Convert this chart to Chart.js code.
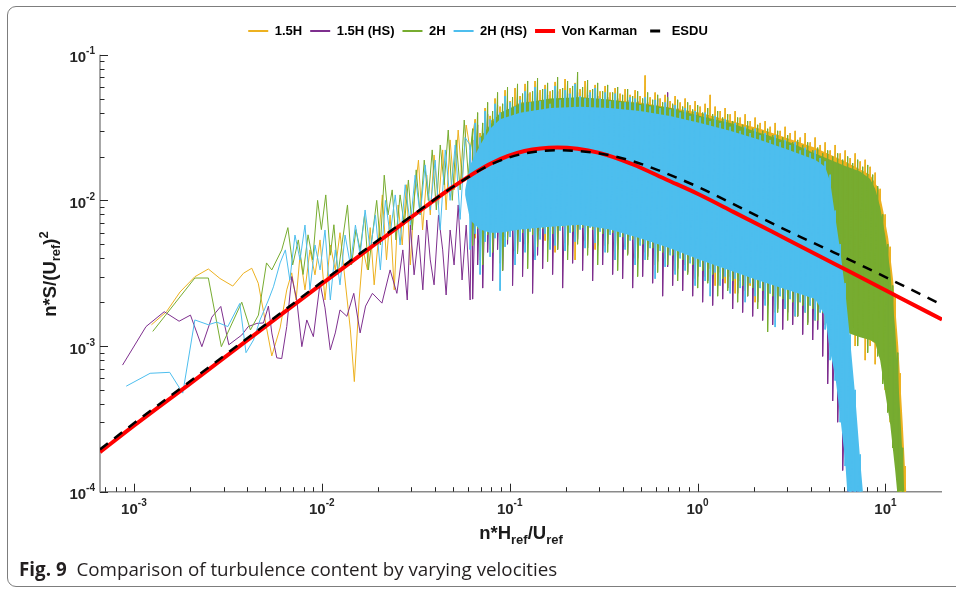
<!DOCTYPE html>
<html>
<head>
<meta charset="utf-8">
<script src="https://cdn.jsdelivr.net/npm/chart.js@4.4.1/dist/chart.umd.min.js"></script>
<style>
  html, body { margin: 0; padding: 0; background: #fff; }
  #wrap { position: relative; width: 956px; height: 590px; overflow: hidden; }
  #frame { position: absolute; left: 7px; top: 6px; width: 970px; height: 581px;
           border: 1.5px solid #7d7d7d; border-radius: 9px; box-sizing: border-box; }
  #plot { position: absolute; left: 0; top: 0; }
  #caption { position: absolute; left: 19px; top: 557px; line-height: 24px;
             font-family: "Open Sans", sans-serif; font-size: 18.8px; color: #231f20; white-space: nowrap; }
  #caption b { font-weight: 700; }
</style>
</head>
<body>
<div id="wrap">
  <div id="frame"></div>
  <canvas id="plot" width="956" height="590"></canvas>
  <div id="caption"><b>Fig. 9</b>&nbsp; Comparison of turbulence content by varying velocities</div>
</div>
<script>
// ---- axes -------------------------------------------------------------
const xMin = 6.6e-4, xMax = 20;
const yMin = 1e-4, yMax = 1e-1;
const xDecades = [-3, -2, -1, 0, 1];
const yDecades = [-4, -3, -2, -1];

// ---- series ------------------------------------------------------------
const seriesNames  = ['1.5H', '1.5H (HS)', '2H', '2H (HS)', 'Von Karman', 'ESDU'];
const seriesColors = ['#EDB120', '#7E2F8E', '#77AC30', '#4DBEEE', '#FF0000', '#000000'];

// reference spectra [n*H/U, nS/U^2]
const vonKarman = [
  [6.6e-4, 1.87e-4], [1e-3, 2.84e-4], [2e-3, 5.55e-4], [5e-3, 1.36e-3], [0.01, 2.67e-3],
  [0.02, 5.2e-3], [0.035, 8.9e-3], [0.05, 0.0124], [0.08, 0.0180], [0.12, 0.0218],
  [0.18, 0.0231], [0.3, 0.0212], [0.45, 0.0177], [0.69, 0.0138], [1.0, 0.0111],
  [1.55, 0.00834], [2.5, 0.00608], [3.5, 0.00486], [5.5, 0.00360], [8.0, 0.00281],
  [12, 0.00214], [20, 0.00152]
];
const esdu = [
  [6.6e-4, 1.95e-4], [1e-3, 2.95e-4], [2e-3, 5.75e-4], [5e-3, 1.4e-3], [0.01, 2.75e-3],
  [0.02, 5.35e-3], [0.035, 9.0e-3], [0.05, 0.0124], [0.08, 0.0177], [0.12, 0.0210],
  [0.18, 0.0221], [0.3, 0.0210], [0.45, 0.0186], [0.61, 0.0162], [1.03, 0.0122],
  [1.76, 0.0087], [3.0, 0.0062], [5.3, 0.00440], [9.0, 0.00318], [20, 0.00192]
];

// measured spectra, sparse low-frequency part [n*H/U, nS/U^2]
const line15H = [
  [1.24e-3, 1.40e-3], [1.49e-3, 1.72e-3], [1.76e-3, 2.35e-3], [2.11e-3, 2.99e-3], [2.49e-3, 3.38e-3],
  [2.87e-3, 2.91e-3], [3.36e-3, 2.58e-3], [3.83e-3, 3.16e-3], [4.24e-3, 3.42e-3], [4.59e-3, 2.70e-3],
  [4.99e-3, 1.51e-3], [5.42e-3, 8.55e-4], [6.0e-3, 1.33e-3], [6.51e-3, 2.43e-3], [6.92e-3, 3.18e-3],
  [7.3e-3, 2.07e-3], [7.66e-3, 4.22e-3], [8.14e-3, 2.43e-3], [8.65e-3, 4.57e-3], [9.2e-3, 3.08e-3],
  [9.79e-3, 5.35e-3], [1.04e-2, 2.07e-3], [1.11e-2, 4.94e-3], [1.18e-2, 3.33e-3], [1.25e-2, 6.0e-3],
  [1.33e-2, 2.84e-3], [1.42e-2, 1.29e-3], [1.49e-2, 5.7e-4], [1.58e-2, 2.07e-3], [1.66e-2, 4.57e-3],
  [1.75e-2, 3.33e-3], [1.81e-2, 6.5e-3], [1.9e-2, 2.63e-3], [2.0e-2, 5.35e-3], [2.1e-2, 1.09e-2],
  [2.21e-2, 3.9e-3], [2.31e-2, 7.94e-3], [2.43e-2, 2.43e-3], [2.55e-2, 9.3e-3], [2.68e-2, 4.94e-3],
  [2.82e-2, 1.28e-2], [2.96e-2, 3.6e-3], [3.1e-2, 1.0e-2], [3.27e-2, 1.89e-2], [3.44e-2, 6.26e-3],
  [3.62e-2, 1.49e-2], [3.78e-2, 7.94e-3], [3.96e-2, 2.05e-2], [4.18e-2, 9.3e-3], [4.4e-2, 2.22e-2],
  [4.59e-2, 8.59e-3], [4.82e-2, 2.6e-2], [5.06e-2, 1.18e-2], [5.32e-2, 3.04e-2], [5.58e-2, 1.38e-2],
  [5.87e-2, 3.29e-2], [6.16e-2, 0.0222]
];
const line15HHS = [
  [8.7e-4, 7.4e-4], [1.16e-3, 1.36e-3], [1.45e-3, 1.72e-3], [1.74e-3, 1.48e-3], [2.0e-3, 1.63e-3],
  [2.3e-3, 9.9e-4], [2.6e-3, 1.58e-3], [2.9e-3, 1.87e-3], [3.2e-3, 1.02e-3], [3.75e-3, 1.19e-3],
  [4.06e-3, 1.36e-3], [4.51e-3, 1.43e-3], [4.89e-3, 1.44e-3], [5.2e-3, 1.88e-3], [5.42e-3, 1.23e-3],
  [5.76e-3, 8.3e-4], [6.12e-3, 8.2e-4], [6.51e-3, 1.36e-3], [6.92e-3, 3.0e-3], [7.36e-3, 2.07e-3],
  [7.83e-3, 9.9e-4], [8.32e-3, 1.51e-3], [9.02e-3, 1.16e-3], [9.79e-3, 2.7e-3], [1.04e-2, 1.83e-3],
  [1.11e-2, 9.4e-4], [1.18e-2, 1.23e-3], [1.25e-2, 1.77e-3], [1.36e-2, 1.6e-3], [1.48e-2, 2.3e-3],
  [1.6e-2, 1.23e-3], [1.71e-2, 1.88e-3], [1.86e-2, 2.3e-3], [2.09e-2, 1.97e-3], [2.31e-2, 3.33e-3],
  [2.51e-2, 2.3e-3], [2.7e-2, 4.57e-3], [2.85e-2, 2.07e-3], [2.96e-2, 6.77e-3], [3.1e-2, 3.08e-3],
  [3.27e-2, 5.78e-3], [3.45e-2, 2.43e-3], [3.62e-2, 7.33e-3], [3.78e-2, 3.9e-3], [3.96e-2, 2.63e-3],
  [4.18e-2, 7.94e-3], [4.4e-2, 4.57e-3], [4.59e-2, 2.24e-3], [4.82e-2, 6.26e-3], [5.06e-2, 3.6e-3],
  [5.32e-2, 9.3e-3], [5.58e-2, 2.84e-3], [5.87e-2, 6.77e-3], [6.16e-2, 2.07e-3]
];
const line2H = [
  [1.26e-3, 1.26e-3], [2.11e-3, 2.93e-3], [2.49e-3, 2.93e-3], [2.92e-3, 9.9e-4], [3.75e-3, 2.0e-3],
  [4.17e-3, 1.29e-3], [4.6e-3, 1.63e-3], [5.08e-3, 3.72e-3], [5.42e-3, 3.33e-3], [6.12e-3, 4.57e-3],
  [6.6e-3, 6.5e-3], [7.0e-3, 3.6e-3], [7.5e-3, 5.35e-3], [7.95e-3, 3.1e-3], [8.45e-3, 5.8e-3],
  [8.95e-3, 3.9e-3], [9.5e-3, 1.0e-2], [9.95e-3, 6.3e-3], [1.05e-2, 1.09e-2], [1.11e-2, 4.2e-3],
  [1.16e-2, 6.8e-3], [1.22e-2, 3.1e-3], [1.29e-2, 5.35e-3], [1.37e-2, 9.3e-3], [1.44e-2, 3.6e-3],
  [1.52e-2, 6.3e-3], [1.6e-2, 4.57e-3], [1.69e-2, 7.94e-3], [1.77e-2, 3.33e-3], [1.86e-2, 5.8e-3],
  [1.96e-2, 1.0e-2], [2.05e-2, 4.94e-3], [2.15e-2, 1.49e-2], [2.25e-2, 7.94e-3], [2.37e-2, 1.18e-2],
  [2.48e-2, 5.35e-3], [2.61e-2, 1.09e-2], [2.75e-2, 6.77e-3], [2.89e-2, 1.38e-2], [3.03e-2, 6.26e-3],
  [3.18e-2, 1.62e-2], [3.34e-2, 7.94e-3], [3.51e-2, 1.89e-2], [3.69e-2, 1.0e-2], [3.87e-2, 2.22e-2],
  [4.07e-2, 8.6e-3], [4.27e-2, 2.4e-2], [4.48e-2, 1.28e-2], [4.71e-2, 3.04e-2], [4.95e-2, 1.0e-2],
  [5.19e-2, 2.6e-2], [5.45e-2, 1.18e-2], [5.73e-2, 3.56e-2], [6.02e-2, 1.49e-2]
];
const line2HHS = [
  [9.1e-4, 5.3e-4], [1.22e-3, 6.5e-4], [1.55e-3, 6.6e-4], [1.82e-3, 4.75e-4], [2.11e-3, 1.51e-3],
  [2.49e-3, 1.40e-3], [2.76e-3, 1.46e-3], [3.16e-3, 1.36e-3], [3.66e-3, 1.96e-3], [3.95e-3, 9.0e-4],
  [4.33e-3, 1.10e-3], [4.69e-3, 1.51e-3], [5.2e-3, 2.07e-3], [5.53e-3, 2.55e-3], [6.0e-3, 3.72e-3],
  [6.4e-3, 4.57e-3], [6.76e-3, 2.84e-3], [7.2e-3, 5.78e-3], [7.66e-3, 3.9e-3], [8.14e-3, 6.77e-3],
  [8.65e-3, 2.43e-3], [9.2e-3, 4.94e-3], [9.79e-3, 3.33e-3], [1.04e-2, 6.26e-3], [1.11e-2, 2.07e-3],
  [1.18e-2, 4.57e-3], [1.25e-2, 2.63e-3], [1.33e-2, 5.78e-3], [1.42e-2, 3.6e-3], [1.51e-2, 6.77e-3],
  [1.6e-2, 4.22e-3], [1.7e-2, 8.59e-3], [1.81e-2, 4.57e-3], [1.93e-2, 7.94e-3], [2.05e-2, 3.33e-3],
  [2.18e-2, 1.0e-2], [2.31e-2, 5.78e-3], [2.46e-2, 1.09e-2], [2.61e-2, 4.94e-3], [2.78e-2, 1.28e-2],
  [2.96e-2, 6.77e-3], [3.14e-2, 1.49e-2], [3.34e-2, 7.94e-3], [3.55e-2, 1.75e-2], [3.78e-2, 8.59e-3],
  [4.01e-2, 1.89e-2], [4.27e-2, 6.26e-3], [4.54e-2, 2.22e-2], [4.82e-2, 1.0e-2], [5.13e-2, 2.4e-2],
  [5.45e-2, 7.4e-3], [5.79e-2, 2.7e-2]
];

// measured spectra, dense part: local [n*H/U, peak, trough] pairs
const noise15H = [
  [0.0655, 0.036, 5.5e-3], [0.0696, 0.029, 3.9e-3], [0.0740, 0.043, 5.9e-3], [0.0787, 0.038, 4.6e-3],
  [0.0836, 0.050, 6.1e-3], [0.0889, 0.044, 3.7e-3], [0.0945, 0.057, 5.6e-3], [0.1005, 0.048, 6.2e-3],
  [0.1068, 0.059, 4.5e-3], [0.1136, 0.052, 6.4e-3], [0.1208, 0.063, 5.0e-3], [0.1284, 0.055, 6.6e-3],
  [0.1365, 0.066, 4.1e-3], [0.1452, 0.057, 6.2e-3], [0.1543, 0.062, 5.3e-3], [0.1641, 0.056, 6.8e-3],
  [0.1745, 0.065, 4.4e-3], [0.1855, 0.058, 6.5e-3], [0.1972, 0.068, 5.1e-3], [0.2097, 0.059, 6.9e-3],
  [0.2229, 0.064, 3.9e-3], [0.2370, 0.058, 6.4e-3], [0.2520, 0.066, 5.3e-3], [0.2680, 0.057, 6.6e-3],
  [0.2849, 0.062, 4.6e-3], [0.3029, 0.056, 6.3e-3], [0.3221, 0.061, 4.9e-3], [0.3424, 0.055, 6.1e-3],
  [0.3641, 0.059, 3.9e-3], [0.3871, 0.054, 5.8e-3], [0.4115, 0.058, 4.8e-3], [0.4376, 0.053, 5.6e-3],
  [0.4652, 0.057, 4.0e-3], [0.4946, 0.052, 5.3e-3], [0.5259, 0.072, 4.4e-3], [0.5591, 0.051, 5.0e-3],
  [0.5945, 0.055, 3.6e-3], [0.6320, 0.050, 4.7e-3], [0.6720, 0.053, 4.0e-3], [0.7145, 0.048, 4.4e-3],
  [0.7596, 0.052, 3.3e-3], [0.8077, 0.047, 4.2e-3], [0.8587, 0.050, 3.6e-3], [0.9130, 0.045, 3.9e-3],
  [0.9707, 0.048, 2.9e-3], [1.032, 0.044, 3.7e-3], [1.097, 0.046, 3.0e-3], [1.167, 0.053, 3.4e-3],
  [1.240, 0.044, 2.6e-3], [1.319, 0.041, 3.2e-3], [1.402, 0.043, 2.7e-3], [1.491, 0.039, 3.0e-3],
  [1.585, 0.041, 2.3e-3], [1.685, 0.037, 2.8e-3], [1.792, 0.039, 2.4e-3], [1.905, 0.035, 2.6e-3],
  [2.025, 0.037, 2.0e-3], [2.153, 0.034, 2.5e-3], [2.289, 0.035, 2.1e-3], [2.434, 0.032, 2.3e-3],
  [2.588, 0.034, 1.7e-3], [2.751, 0.030, 2.2e-3], [2.925, 0.032, 1.8e-3], [3.110, 0.029, 2.1e-3],
  [3.307, 0.030, 1.6e-3], [3.516, 0.027, 2.0e-3], [3.738, 0.029, 1.7e-3], [3.974, 0.025, 1.9e-3],
  [4.225, 0.027, 1.5e-3], [4.492, 0.024, 1.8e-3], [4.776, 0.025, 1.4e-3], [5.078, 0.022, 1.6e-3],
  [5.399, 0.024, 1.3e-3], [5.740, 0.021, 1.5e-3], [6.103, 0.022, 1.2e-3], [6.489, 0.0195, 1.4e-3],
  [6.899, 0.021, 1.0e-3], [7.335, 0.0185, 1.2e-3], [7.799, 0.019, 8.0e-4], [8.292, 0.017, 1.0e-3],
  [8.816, 0.0155, 7.5e-4], [9.373, 0.012, 8.5e-4], [9.965, 8.0e-3, 5.0e-4], [10.60, 4.8e-3, 3.0e-4],
  [11.27, 2.2e-3, 1.7e-4], [11.98, 6.5e-4, 8e-5], [12.73, 1.5e-4, 5e-5]
];
const noise15HHS = [
  [0.0635, 0.026, 2.1e-3], [0.0675, 0.033, 3.6e-3], [0.0718, 0.029, 2.5e-3], [0.0763, 0.039, 4.4e-3],
  [0.0811, 0.034, 2.8e-3], [0.0862, 0.045, 4.6e-3], [0.0917, 0.038, 3.3e-3], [0.0974, 0.049, 5.0e-3],
  [0.1036, 0.042, 2.6e-3], [0.1101, 0.052, 4.4e-3], [0.1171, 0.045, 3.0e-3], [0.1246, 0.054, 5.1e-3],
  [0.1324, 0.047, 2.3e-3], [0.1407, 0.055, 4.2e-3], [0.1497, 0.048, 3.4e-3], [0.1591, 0.053, 5.3e-3],
  [0.1692, 0.047, 3.1e-3], [0.1799, 0.056, 4.6e-3], [0.1913, 0.048, 2.5e-3], [0.2033, 0.054, 4.9e-3],
  [0.2162, 0.047, 3.7e-3], [0.2298, 0.055, 5.4e-3], [0.2444, 0.048, 3.3e-3], [0.2598, 0.053, 4.7e-3],
  [0.2763, 0.046, 2.8e-3], [0.2938, 0.052, 4.9e-3], [0.3123, 0.046, 3.6e-3], [0.3321, 0.051, 5.0e-3],
  [0.3531, 0.045, 3.1e-3], [0.3754, 0.050, 4.6e-3], [0.3991, 0.044, 2.9e-3], [0.4243, 0.049, 4.3e-3],
  [0.4512, 0.043, 2.5e-3], [0.4797, 0.048, 4.0e-3], [0.5100, 0.042, 3.0e-3], [0.5422, 0.047, 4.1e-3],
  [0.5765, 0.041, 2.7e-3], [0.6130, 0.050, 3.8e-3], [0.6517, 0.040, 2.2e-3], [0.6929, 0.055, 3.5e-3],
  [0.7367, 0.045, 2.6e-3], [0.7832, 0.043, 3.4e-3], [0.8328, 0.038, 2.4e-3], [0.8854, 0.041, 3.2e-3],
  [0.9414, 0.036, 2.2e-3], [1.001, 0.039, 3.0e-3], [1.064, 0.035, 2.0e-3], [1.132, 0.037, 2.8e-3],
  [1.203, 0.033, 1.9e-3], [1.279, 0.035, 2.6e-3], [1.360, 0.032, 2.1e-3], [1.446, 0.033, 2.5e-3],
  [1.537, 0.030, 1.8e-3], [1.634, 0.032, 2.3e-3], [1.737, 0.029, 1.7e-3], [1.847, 0.030, 2.2e-3],
  [1.964, 0.027, 1.6e-3], [2.088, 0.029, 2.0e-3], [2.220, 0.026, 1.5e-3], [2.360, 0.028, 1.9e-3],
  [2.510, 0.025, 1.4e-3], [2.668, 0.026, 1.8e-3], [2.837, 0.024, 1.3e-3], [3.016, 0.025, 1.7e-3],
  [3.207, 0.022, 1.4e-3], [3.410, 0.023, 1.6e-3], [3.625, 0.021, 1.2e-3], [3.854, 0.022, 1.45e-3],
  [4.098, 0.020, 1.1e-3], [4.357, 0.019, 1.3e-3], [4.632, 0.018, 8.5e-4], [4.925, 0.015, 5.5e-4],
  [5.236, 9.0e-3, 4.2e-4], [5.567, 5.0e-3, 3.0e-4], [5.919, 2.6e-3, 1.4e-4], [6.293, 1.1e-3, 7e-5],
  [6.691, 4.0e-4, 5e-5], [7.114, 1.2e-4, 5e-5]
];
const noise2H = [
  [0.0635, 0.031, 4.9e-3], [0.0675, 0.040, 6.4e-3], [0.0718, 0.034, 3.6e-3], [0.0763, 0.047, 5.8e-3],
  [0.0811, 0.041, 4.4e-3], [0.0862, 0.055, 6.2e-3], [0.0917, 0.046, 3.3e-3], [0.0974, 0.060, 5.4e-3],
  [0.1036, 0.051, 6.3e-3], [0.1101, 0.063, 4.3e-3], [0.1171, 0.054, 6.0e-3], [0.1246, 0.066, 3.4e-3],
  [0.1324, 0.056, 5.8e-3], [0.1407, 0.069, 4.8e-3], [0.1497, 0.058, 6.4e-3], [0.1591, 0.064, 3.8e-3],
  [0.1692, 0.057, 5.9e-3], [0.1799, 0.070, 4.6e-3], [0.1913, 0.059, 6.6e-3], [0.2033, 0.066, 3.9e-3],
  [0.2162, 0.061, 6.1e-3], [0.2298, 0.076, 5.0e-3], [0.2444, 0.060, 6.5e-3], [0.2598, 0.067, 4.2e-3],
  [0.2763, 0.058, 6.3e-3], [0.2938, 0.064, 3.6e-3], [0.3123, 0.056, 5.9e-3], [0.3321, 0.062, 4.4e-3],
  [0.3531, 0.055, 6.0e-3], [0.3754, 0.060, 3.3e-3], [0.3991, 0.053, 5.6e-3], [0.4243, 0.058, 4.2e-3],
  [0.4512, 0.052, 5.4e-3], [0.4797, 0.056, 3.0e-3], [0.5100, 0.050, 5.0e-3], [0.5422, 0.055, 3.9e-3],
  [0.5765, 0.049, 4.7e-3], [0.6130, 0.053, 3.2e-3], [0.6517, 0.047, 4.4e-3], [0.6929, 0.051, 3.6e-3],
  [0.7367, 0.046, 4.2e-3], [0.7832, 0.049, 2.8e-3], [0.8328, 0.044, 3.9e-3], [0.8854, 0.047, 3.1e-3],
  [0.9414, 0.042, 3.6e-3], [1.001, 0.045, 2.5e-3], [1.064, 0.040, 3.3e-3], [1.132, 0.043, 2.7e-3],
  [1.203, 0.039, 3.1e-3], [1.279, 0.041, 2.2e-3], [1.360, 0.037, 2.9e-3], [1.446, 0.039, 2.4e-3],
  [1.537, 0.035, 2.8e-3], [1.634, 0.037, 2.0e-3], [1.737, 0.033, 2.6e-3], [1.847, 0.035, 2.2e-3],
  [1.964, 0.031, 2.5e-3], [2.088, 0.033, 1.8e-3], [2.220, 0.030, 2.4e-3], [2.360, 0.031, 1.25e-3],
  [2.510, 0.028, 2.2e-3], [2.668, 0.030, 1.7e-3], [2.837, 0.027, 2.1e-3], [3.016, 0.028, 1.5e-3],
  [3.207, 0.025, 2.0e-3], [3.410, 0.026, 1.6e-3], [3.625, 0.024, 1.9e-3], [3.854, 0.025, 1.4e-3],
  [4.098, 0.022, 1.8e-3], [4.357, 0.023, 1.5e-3], [4.632, 0.021, 1.7e-3], [4.925, 0.022, 1.3e-3],
  [5.236, 0.020, 1.45e-3], [5.567, 0.021, 1.2e-3], [5.919, 0.019, 1.4e-3], [6.293, 0.020, 1.1e-3],
  [6.691, 0.018, 1.35e-3], [7.114, 0.019, 1.0e-3], [7.564, 0.017, 1.25e-3], [8.042, 0.0175, 9.0e-4],
  [8.550, 0.015, 1.1e-3], [9.091, 0.0125, 8.5e-4], [9.665, 8.0e-3, 5.5e-4], [10.28, 5.0e-3, 3.5e-4],
  [10.93, 2.6e-3, 2.0e-4], [11.62, 9.0e-4, 9e-5], [12.35, 2.0e-4, 5e-5]
];
const noise2HHS = [
  [0.0616, 0.024, 4.6e-3], [0.0655, 0.034, 5.9e-3], [0.0696, 0.027, 3.1e-3], [0.0740, 0.041, 5.2e-3],
  [0.0787, 0.036, 4.1e-3], [0.0836, 0.046, 5.5e-3], [0.0889, 0.040, 2.4e-3], [0.0945, 0.052, 4.8e-3],
  [0.1005, 0.047, 5.6e-3], [0.1068, 0.044, 3.6e-3], [0.1136, 0.049, 5.2e-3], [0.1208, 0.056, 4.4e-3],
  [0.1284, 0.047, 6.1e-3], [0.1365, 0.060, 3.9e-3], [0.1452, 0.048, 5.4e-3], [0.1543, 0.058, 5.9e-3],
  [0.1641, 0.046, 4.6e-3], [0.1745, 0.061, 4.9e-3], [0.1855, 0.049, 6.2e-3], [0.1972, 0.057, 4.5e-3],
  [0.2097, 0.054, 6.0e-3], [0.2229, 0.063, 5.2e-3], [0.2370, 0.052, 6.3e-3], [0.2520, 0.050, 4.7e-3],
  [0.2680, 0.055, 6.5e-3], [0.2849, 0.059, 5.1e-3], [0.3029, 0.050, 6.1e-3], [0.3221, 0.055, 4.4e-3],
  [0.3424, 0.048, 5.8e-3], [0.3641, 0.054, 3.9e-3], [0.3871, 0.047, 5.6e-3], [0.4115, 0.047, 4.6e-3],
  [0.4376, 0.051, 5.3e-3], [0.4652, 0.050, 3.6e-3], [0.4946, 0.045, 4.9e-3], [0.5259, 0.051, 3.9e-3],
  [0.5591, 0.044, 4.7e-3], [0.5945, 0.049, 2.9e-3], [0.6320, 0.043, 4.5e-3], [0.6720, 0.047, 3.5e-3],
  [0.7145, 0.042, 4.2e-3], [0.7596, 0.045, 3.1e-3], [0.8077, 0.040, 4.0e-3], [0.8587, 0.043, 3.3e-3],
  [0.9130, 0.038, 3.7e-3], [0.9707, 0.041, 2.6e-3], [1.032, 0.037, 3.5e-3], [1.097, 0.040, 2.8e-3],
  [1.167, 0.035, 2.2e-3], [1.240, 0.038, 3.2e-3], [1.319, 0.034, 2.6e-3], [1.402, 0.036, 3.0e-3],
  [1.491, 0.032, 2.3e-3], [1.585, 0.034, 2.9e-3], [1.685, 0.030, 2.5e-3], [1.792, 0.032, 2.0e-3],
  [1.905, 0.029, 2.7e-3], [2.025, 0.031, 2.2e-3], [2.153, 0.028, 2.5e-3], [2.289, 0.029, 1.9e-3],
  [2.434, 0.026, 2.3e-3], [2.588, 0.028, 1.35e-3], [2.751, 0.025, 2.2e-3], [2.925, 0.026, 1.8e-3],
  [3.110, 0.024, 2.1e-3], [3.307, 0.025, 1.6e-3], [3.516, 0.022, 2.0e-3], [3.738, 0.023, 1.7e-3],
  [3.974, 0.021, 1.9e-3], [4.225, 0.022, 1.5e-3], [4.492, 0.0195, 1.7e-3], [4.776, 0.0185, 1.3e-3],
  [5.078, 0.0150, 8.0e-4], [5.399, 8.5e-3, 5.8e-4], [5.740, 5.0e-3, 3.0e-4], [6.103, 2.7e-3, 1.5e-4],
  [6.489, 1.2e-3, 8e-5], [6.899, 5.0e-4, 5e-5], [7.335, 1.8e-4, 5e-5]
];

// solid body of each dense band: [n*H/U, upper edge, lower edge]
const core15H = [
  [0.0655, 0.014, 0.011], [0.0787, 0.035, 7.0e-3], [0.1136, 0.047, 6.8e-3], [0.237, 0.051, 7.0e-3],
  [0.495, 0.047, 6.0e-3], [1.032, 0.040, 4.5e-3], [2.153, 0.031, 3.3e-3], [4.225, 0.023, 2.4e-3],
  [6.103, 0.0185, 1.3e-3], [8.292, 0.0150, 1.1e-3], [9.2, 0.0120, 1.0e-3], [9.73, 8.5e-3, 7.5e-4],
  [10.35, 5.5e-3, 4.5e-4], [11.0, 2.8e-3, 2.6e-4], [11.7, 1.0e-3, 1.3e-4], [12.35, 3.0e-4, 6e-5],
  [12.9, 1.0e-4, 5e-5], [13.3, 5e-5, 5e-5]
];
const core2H = [
  [0.0616, 0.012, 0.0105], [0.0696, 0.027, 7.0e-3], [0.0889, 0.040, 6.5e-3], [0.1136, 0.046, 6.8e-3],
  [0.1641, 0.050, 7.0e-3], [0.237, 0.051, 7.2e-3], [0.342, 0.049, 6.8e-3], [0.495, 0.046, 6.0e-3],
  [0.7145, 0.043, 5.2e-3], [1.032, 0.038, 4.4e-3], [1.491, 0.034, 3.8e-3], [2.153, 0.029, 3.2e-3],
  [3.11, 0.025, 2.7e-3], [4.225, 0.021, 2.3e-3], [5.078, 0.019, 1.6e-3], [6.103, 0.0172, 1.25e-3],
  [7.335, 0.0158, 1.15e-3], [8.292, 0.0140, 1.1e-3], [8.816, 0.0120, 1.05e-3], [9.373, 9.0e-3, 8.0e-4],
  [9.965, 5.8e-3, 4.8e-4], [10.60, 3.3e-3, 2.9e-4], [11.27, 1.3e-3, 1.4e-4], [11.98, 3.5e-4, 6e-5],
  [12.6, 1.0e-4, 5e-5], [13.0, 5e-5, 5e-5]
];
const core2HHS = [
  [0.0579, 0.0118, 0.0109], [0.0616, 0.0175, 7.3e-3], [0.0696, 0.024, 6.3e-3], [0.0787, 0.031, 6.0e-3],
  [0.0889, 0.036, 6.0e-3], [0.1136, 0.040, 6.3e-3], [0.1641, 0.043, 6.6e-3], [0.237, 0.044, 6.8e-3],
  [0.342, 0.043, 6.3e-3], [0.495, 0.041, 5.5e-3], [0.7145, 0.038, 4.7e-3], [1.032, 0.034, 3.9e-3],
  [1.491, 0.030, 3.3e-3], [2.153, 0.026, 2.8e-3], [3.11, 0.022, 2.4e-3], [4.225, 0.019, 2.1e-3],
  [4.776, 0.0170, 1.6e-3], [5.078, 0.0135, 9.1e-4], [5.399, 7.8e-3, 6.3e-4], [5.740, 4.57e-3, 3.3e-4],
  [6.103, 2.43e-3, 1.65e-4], [6.489, 1.1e-3, 5e-5], [6.899, 4.6e-4, 5e-5], [7.335, 1.65e-4, 5e-5],
  [7.7, 8e-5, 5e-5]
];

// ---- dataset builders --------------------------------------------------
const asPoints = arr => arr.map(([x, y]) => ({ x, y }));
const swings   = arr => arr.flatMap(([x, hi, lo]) => [{ x, y: hi }, { x, y: lo }]);
const upperOf  = arr => arr.map(([x, u]) => ({ x, y: u }));
const lowerOf  = arr => arr.map(([x, , l]) => ({ x, y: l }));

// drawing depth: smaller order is painted on top
const depth = [5, 4, 3, 2, 1, 0];

function spectrum(i, sparse, dense) {
  return { label: seriesNames[i], data: asPoints(sparse).concat(swings(dense)),
           borderColor: seriesColors[i], backgroundColor: seriesColors[i], borderWidth: 1,
           pointRadius: 0, fill: false, tension: 0, order: depth[i] };
}
function body(i, core) {
  const c = seriesColors[i];
  return [
    { label: '', data: upperOf(core), borderColor: c, backgroundColor: c, borderWidth: 0,
      pointRadius: 0, fill: '+1', tension: 0, order: depth[i] },
    { label: '', data: lowerOf(core), borderColor: c, backgroundColor: c, borderWidth: 0,
      pointRadius: 0, fill: false, tension: 0, order: depth[i] }
  ];
}

const datasets = [
  spectrum(0, line15H, noise15H),
  spectrum(1, line15HHS, noise15HHS),
  spectrum(2, line2H, noise2H),
  spectrum(3, line2HHS, noise2HHS),
  { label: seriesNames[4], data: asPoints(vonKarman), borderColor: seriesColors[4], backgroundColor: seriesColors[4],
    borderWidth: 4, pointRadius: 0, fill: false, cubicInterpolationMode: 'monotone', order: depth[4] },
  { label: seriesNames[5], data: asPoints(esdu), borderColor: seriesColors[5], backgroundColor: seriesColors[5],
    borderWidth: 2.5, borderDash: [10, 8], pointRadius: 0, fill: false, cubicInterpolationMode: 'monotone', order: depth[5] },
  ...body(0, core15H),
  ...body(2, core2H),
  ...body(3, core2HHS)
];

// ---- axes, tick marks, tick labels and axis titles ----------------------
const FONT = '"Liberation Sans", Arial, Helvetica, sans-serif';

function richText(ctx, parts, x, y, align) {
  let total = 0;
  const widths = parts.map(([t, s]) => {
    ctx.font = `bold ${s}px ${FONT}`;
    const w = ctx.measureText(t).width; total += w; return w;
  });
  let cx = align === 'center' ? x - total / 2 : (align === 'right' ? x - total : x);
  parts.forEach(([t, s, dy], i) => {
    ctx.font = `bold ${s}px ${FONT}`;
    ctx.fillText(t, cx, y + dy);
    cx += widths[i];
  });
}

const logAxes = {
  id: 'logAxes',
  beforeDatasetsDraw(chart) {
    const { ctx, chartArea: a, scales: { x, y } } = chart;
    ctx.save();
    ctx.strokeStyle = '#8a8a8a';
    ctx.lineWidth = 1.5;
    ctx.beginPath();
    ctx.moveTo(a.left, a.top);
    ctx.lineTo(a.left, a.bottom);
    ctx.lineTo(a.right, a.bottom);
    ctx.stroke();
    ctx.strokeStyle = '#262626';
    ctx.lineWidth = 1;
    ctx.beginPath();
    for (let e = -5; e <= 1; e++) {
      for (let m = 1; m <= 9; m++) {
        const v = m * Math.pow(10, e);
        if (v >= yMin * 0.999 && v <= yMax * 1.001) {
          const py = Math.round(y.getPixelForValue(v)) + 0.5;
          ctx.moveTo(a.left, py); ctx.lineTo(a.left + (m === 1 ? 8 : 4.5), py);
        }
        if (v > xMin && v < xMax * 0.999) {
          const px = Math.round(x.getPixelForValue(v)) + 0.5;
          ctx.moveTo(px, a.bottom); ctx.lineTo(px, a.bottom - (m === 1 ? 8 : 4.5));
        }
      }
    }
    ctx.stroke();
    ctx.restore();
  },
  afterDraw(chart) {
    const { ctx, chartArea: a, scales: { x, y } } = chart;
    ctx.save();
    ctx.fillStyle = '#262626';
    ctx.textBaseline = 'alphabetic';
    ctx.textAlign = 'left';
    yDecades.forEach(k => {
      const py = y.getPixelForValue(Math.pow(10, k));
      richText(ctx, [['10', 15, 0], [String(k), 10, -8]], a.left - 5, py + 7.6, 'right');
    });
    xDecades.forEach(k => {
      const px = x.getPixelForValue(Math.pow(10, k));
      richText(ctx, [['10', 15, 0], [String(k), 10, -8]], px, a.bottom + 21.8, 'center');
    });
    ctx.fillStyle = '#1a1a1a';
    richText(ctx, [['n*H', 18.5, 0], ['ref', 13, 5], ['/U', 18.5, 0], ['ref', 13, 5]],
             (a.left + a.right) / 2, a.bottom + 47.5, 'center');
    ctx.translate(56, 274);
    ctx.rotate(-Math.PI / 2);
    richText(ctx, [['n*S/(U', 18.5, 0], ['ref', 13, 4], [')', 18.5, 0], ['2', 13, -8.5]], 0, 0, 'center');
    ctx.restore();
  }
};

// ---- chart -------------------------------------------------------------
new Chart(document.getElementById('plot'), {
  type: 'line',
  data: { datasets },
  plugins: [logAxes],
  options: {
    responsive: false,
    animation: false,
    events: [],
    layout: { padding: { left: 14, right: 14, top: 16.5, bottom: 0 } },
    scales: {
      x: {
        type: 'logarithmic', position: 'bottom', min: xMin, max: xMax,
        ticks: { display: false }, grid: { display: false, drawTicks: false }, border: { display: false },
        afterFit: s => { s.height = 98.3; }
      },
      y: {
        type: 'logarithmic', position: 'left', min: yMin, max: yMax,
        ticks: { display: false }, grid: { display: false, drawTicks: false }, border: { display: false },
        afterFit: s => { s.width = 86; }
      },
      gap: {
        type: 'linear', position: 'top', display: true,
        ticks: { display: false }, grid: { display: false, drawTicks: false }, border: { display: false },
        afterFit: s => { s.height = 7.2; }
      }
    },
    plugins: {
      tooltip: { enabled: false },
      legend: {
        position: 'top',
        labels: {
          usePointStyle: true,
          pointStyle: 'line',
          pointStyleWidth: 20,
          padding: 8,
          color: '#000',
          font: { family: FONT, size: 13, weight: 'bold' },
          generateLabels: () => seriesNames.map((name, i) => ({
            text: name,
            datasetIndex: i,
            strokeStyle: seriesColors[i],
            fillStyle: seriesColors[i],
            fontColor: '#000',
            lineWidth: i === 4 ? 4 : (i === 5 ? 3 : 2),
            lineDash: i === 5 ? [10, 20] : [],
            lineDashOffset: i === 5 ? 25 : 0,
            pointStyle: 'line',
            hidden: false
          }))
        }
      }
    }
  }
});
</script>
</body>
</html>
